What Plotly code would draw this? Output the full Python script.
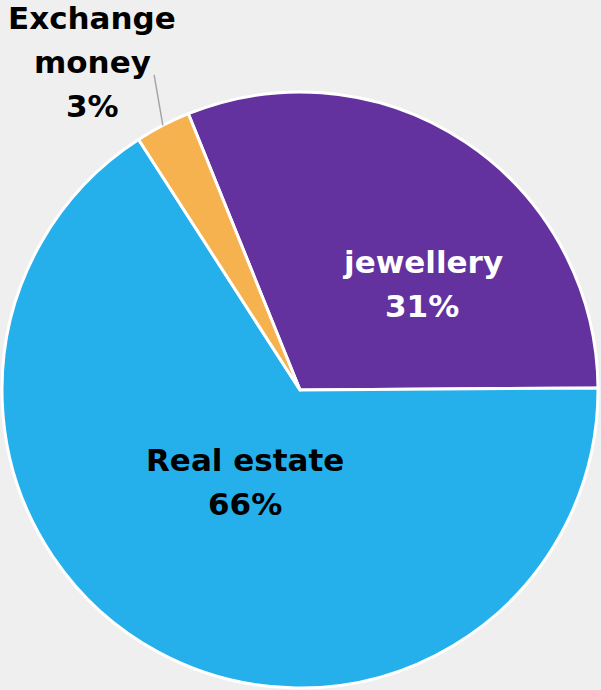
import math
import plotly.graph_objects as go

labels = ["jewellery", "Real estate", "Exchange money"]
values = [31, 66, 3]
colors = ["#63329e", "#25b0ec", "#f6b24e"]
text_colors = ["white", "black", "black"]
rotation = -22

W, H = 601, 690
cx, cy, R = 300, 390, 298

fig = go.Figure(go.Pie(
    labels=labels,
    values=values,
    sort=False,
    direction="clockwise",
    rotation=rotation,
    marker=dict(colors=colors, line=dict(color="white", width=3)),
    textinfo="none",
    hoverinfo="label+percent",
    domain=dict(x=[(cx - R) / W, (cx + R) / W], y=[(H - cy - R) / H, (H - cy + R) / H]),
    showlegend=False,
))

def px(x, y):
    return x / W, 1 - y / H

font = dict(family="DejaVu Sans", size=31)
LINE = 44
label_pos = [(422, 284), (245, 482), (92, 62)]
anns = []
total = sum(values)
for lab, v, (x, y), tc in zip(labels, values, label_pos, text_colors):
    lines = lab.replace(" money", "\nmoney").split("\n") + [f"{round(100 * v / total)}%"]
    n = len(lines)
    for i, t in enumerate(lines):
        yy = y + (i - (n - 1) / 2) * LINE
        pxx, pyy = px(x, yy)
        anns.append(dict(x=pxx, y=pyy, xref="paper", yref="paper", showarrow=False,
                         text=f"<b>{t}</b>", font=dict(font, color=tc),
                         xanchor="center", yanchor="middle"))

# leader line for the small slice: from slice edge midpoint outward
start = rotation + 360 * (values[0] + values[1]) / total
mid = math.radians(start + 360 * values[2] / total / 2)
ex, ey = cx + R * math.sin(mid), cy - R * math.cos(mid)
exx, eyy = px(ex, ey)
anns.append(dict(x=exx, y=eyy, xref="paper", yref="paper", text="", showarrow=True,
                 arrowhead=0, arrowwidth=1.5, arrowcolor="#a6a6a6", ax=-9, ay=-52))

fig.update_layout(
    width=W, height=H,
    margin=dict(l=0, r=0, t=0, b=0),
    paper_bgcolor="#efefef",
    plot_bgcolor="#efefef",
    annotations=anns,
)
fig.write_html("out.html", config={"displayModeBar": False},
               post_script="document.body.style.margin='0';document.body.style.background='#efefef';")
